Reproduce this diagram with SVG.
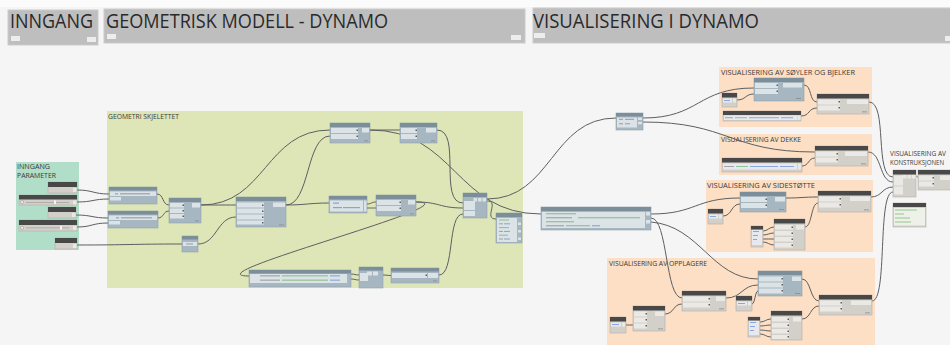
<svg xmlns="http://www.w3.org/2000/svg" width="950" height="345" viewBox="0 0 950 345">
<style>
.hdr{fill:#bebebe;stroke:#cbcbcb;stroke-width:1}
.hb{fill:#ededed}
.ht{font-family:"Open Sans","Noto Sans",sans-serif;font-size:20px;fill:#2a2a2a}
.gt{font-family:"Open Sans","Noto Sans",sans-serif;font-size:7.5px;fill:#3a3a3a}
.w{fill:none;stroke:#5c5f61;stroke-width:1}
.bb{fill:#a6b7c1;stroke:#8fa1ab;stroke-width:.6}
.bh{fill:#7b8e99}
.bi{fill:#dce3e7}
.gb{fill:#d3d0ca;stroke:#b3b0aa;stroke-width:.6}
.gh{fill:#484848}
.gi{fill:#ebe9e5}
.fi{fill:#e7e9ee}
.pm{fill:#5a5e62}
.cb{fill:#3f70cf;opacity:.55}
.cg{fill:#3e9b3e;opacity:.5}
.ck{fill:#6a6a6a;opacity:.55}
.ft{fill:#8a8a8a}
</style>

<!-- canvas -->
<rect x="0" y="0" width="950" height="345" fill="#f5f5f5"/>
<rect x="0" y="0" width="950" height="7" fill="#fbfbfb"/>

<!-- section headers -->
<g id="hdr-inngang">
  <rect class="hdr" x="8" y="10" width="90" height="35"/>
  <rect class="hb" x="11" y="36" width="9" height="5"/>
  <rect class="hb" x="87" y="37" width="9" height="5"/>
  <text class="ht" x="10" y="28" textLength="83" lengthAdjust="spacingAndGlyphs">INNGANG</text>
</g>
<g id="hdr-geometri">
  <rect class="hdr" x="104" y="9" width="421" height="34"/>
  <rect class="hb" x="107" y="34" width="9" height="5"/>
  <rect class="hb" x="511" y="35" width="10" height="5"/>
  <text class="ht" x="106" y="28" textLength="282" lengthAdjust="spacingAndGlyphs">GEOMETRISK MODELL - DYNAMO</text>
</g>
<g id="hdr-visualisering">
  <rect class="hdr" x="533" y="8" width="420" height="35"/>
  <rect class="hb" x="534" y="33" width="11" height="5"/>
  <rect class="hb" x="945" y="36" width="8" height="5"/>
  <text class="ht" x="533" y="28" textLength="226" lengthAdjust="spacingAndGlyphs">VISUALISERING I DYNAMO</text>
</g>

<!-- groups -->
<g id="grp-inngang-parameter">
  <rect x="16" y="162" width="63" height="88" fill="#b0dec8"/>
  <text class="gt" x="17" y="168.5" style="font-size:6.8px" textLength="33" lengthAdjust="spacingAndGlyphs">INNGANG</text>
  <text class="gt" x="17" y="178" style="font-size:6.8px" textLength="39" lengthAdjust="spacingAndGlyphs">PARAMETER</text>
</g>
<g id="grp-geometri-skjelettet">
  <rect x="107" y="111" width="416" height="177" fill="#dee6b8"/>
  <text class="gt" x="108" y="118.5" textLength="71" lengthAdjust="spacingAndGlyphs">GEOMETRI SKJELETTET</text>
</g>
<g id="grp-soyler-bjelker">
  <rect x="719" y="67" width="153" height="60" fill="#fcdfc4"/>
  <text class="gt" x="721" y="74.5" textLength="134" lengthAdjust="spacingAndGlyphs">VISUALISERING AV SØYLER OG BJELKER</text>
</g>
<g id="grp-dekke">
  <rect x="719" y="134" width="153" height="41" fill="#fcdfc4"/>
  <text class="gt" x="721" y="141.5" textLength="80" lengthAdjust="spacingAndGlyphs">VISUALISERING AV DEKKE</text>
</g>
<g id="grp-sidestotte">
  <rect x="706" y="180" width="167" height="72" fill="#fcdfc4"/>
  <text class="gt" x="707" y="187.5" textLength="108" lengthAdjust="spacingAndGlyphs">VISUALISERING AV SIDESTØTTE</text>
</g>
<g id="grp-opplagere">
  <rect x="607" y="258" width="268" height="87" fill="#fcdfc4"/>
  <text class="gt" x="609" y="266" textLength="98" lengthAdjust="spacingAndGlyphs">VISUALISERING AV OPPLAGERE</text>
</g>
<g id="grp-konstruksjonen">
  <text class="gt" x="890" y="156" style="font-size:6.2px" textLength="56" lengthAdjust="spacingAndGlyphs">VISUALISERING AV</text>
  <text class="gt" x="890" y="164.5" style="font-size:6.2px" textLength="54" lengthAdjust="spacingAndGlyphs">KONSTRUKSJONEN</text>
</g>

<!-- connectors -->
<g id="connectors" class="w">
  <path d="M77 190 C93 190 93 194 109 194"/>
  <path d="M77 202 C93 202 93 199 109 199"/>
  <path d="M76 215 C92 215 92 218 108 218"/>
  <path d="M77 227 C92 227 92 223 108 223"/>
  <path d="M77 245 C130 245 130 244 182 244"/>
  <path d="M157 194 C164 194 162 205 169 205"/>
  <path d="M158 218 C164 218 163 211 169 211"/>
  <path d="M201 205 C218 205 219 205 236 205"/>
  <path d="M201 205 C266 205 265 130 330 130"/>
  <path d="M286 205 C310 205 306 136 330 136"/>
  <path d="M286 205 C305 205 310 203 329 203"/>
  <path d="M198 244 C217 244 217 217 236 217"/>
  <path d="M370 130 C385 130 385 130 400 130"/>
  <path d="M370 130 C455 130 456 214 541 214"/>
  <path d="M367 204 C372 204 371 202 376 202"/>
  <path d="M367 208 C372 208 371 208 376 208"/>
  <path d="M437 130 C462 130 438 203 463 203"/>
  <path d="M416 202 C440 202 439 208 463 208"/>
  <path d="M416 202 C478 202 187 276 249 276"/>
  <path d="M439 275 C455 275 447 214 463 214"/>
  <path d="M351 274 C355 274 355 275 359 275"/>
  <path d="M351 279 C355 279 355 280 359 280"/>
  <path d="M383 275 C387 275 387 275.5 391 275.5"/>
  <path d="M487 199 C552 199 551 118 616 118"/>
  <path d="M487 201 C500 201 483 219 496 219"/>
  <path d="M643 118 C700 118 697 88 754 88"/>
  <path d="M643 122 C729 122 729 152 815 152"/>
  <path d="M737 100 C746 100 745 94 754 94"/>
  <path d="M804 85 C812 85 809 102 817 102"/>
  <path d="M801 116 C810 116 808 108 817 108"/>
  <path d="M869 102 C888 102 874 177 893 177"/>
  <path d="M802 166 C809 166 808 158 815 158"/>
  <path d="M868 152 C882 152 879 182 893 182"/>
  <path d="M651 214 C696 214 695 198 740 198"/>
  <path d="M651 218 C668 218 665 298 682 298"/>
  <path d="M651 222 C700 226 712 279 758 279"/>
  <path d="M723 216 C732 216 731 204 740 204"/>
  <path d="M786 198 C802 198 802 197 818 197"/>
  <path d="M805 227 C812 227 811 203 818 203"/>
  <path d="M763 231 C768 231 769 227 774 227"/>
  <path d="M763 235 C768 235 769 233 774 233"/>
  <path d="M763 239 C768 239 769 239 774 239"/>
  <path d="M763 242 C768 242 769 245 774 245"/>
  <path d="M871 197 C882 197 882 187 893 187"/>
  <path d="M872 301 C888 301 877 192 893 192"/>
  <path d="M626 325 C629 325 630 325 633 325"/>
  <path d="M665 314 C674 314 673 304 682 304"/>
  <path d="M726 298 C742 298 742 285 758 285"/>
  <path d="M752 304 C755 304 755 291 758 291"/>
  <path d="M802 279 C811 279 810 301 819 301"/>
  <path d="M802 319 C811 319 810 306 819 306"/>
  <path d="M760 322 C765 322 766 319 771 319"/>
  <path d="M760 326 C765 326 766 325 771 325"/>
  <path d="M760 330 C765 330 766 331 771 331"/>
  <path d="M760 334 C765 334 766 337 771 337"/>
  <path d="M916 176 C917 176 918 178 919 178"/>
</g>

<!-- input parameters -->
<g id="node-tall-1">
  <rect class="gb" x="48" y="182" width="29" height="11"/>
  <rect class="gh" x="48" y="182" width="29" height="5"/>
  <rect class="gi" x="73" y="188" width="3.5" height="4"/>
</g>
<g id="node-slider-1">
  <rect class="gb" x="19" y="195" width="58" height="10"/>
  <rect class="gh" x="19" y="195" width="58" height="4.5"/>
  <circle cx="22" cy="202.2" r="1.6" fill="#f2f0ec" stroke="#8a8782" stroke-width=".5"/>
  <rect x="26" y="202" width="43" height=".8" fill="#a8a49e"/>
  <rect x="54" y="200.5" width="2" height="3.5" fill="#f6f5f2"/>
  <rect class="gi" x="73" y="200.5" width="3.5" height="4"/>
</g>
<g id="node-tall-2">
  <rect class="gb" x="48" y="207" width="28" height="11"/>
  <rect class="gh" x="48" y="207" width="28" height="5"/>
  <rect class="gi" x="72" y="213" width="3.5" height="4"/>
</g>
<g id="node-slider-2">
  <rect class="gb" x="19" y="220" width="58" height="11"/>
  <rect class="gh" x="19" y="220" width="58" height="5"/>
  <circle cx="22" cy="227.8" r="1.6" fill="#f2f0ec" stroke="#8a8782" stroke-width=".5"/>
  <rect x="26" y="227.5" width="43" height=".8" fill="#a8a49e"/>
  <rect x="60" y="226" width="2" height="3.5" fill="#f6f5f2"/>
  <rect class="gi" x="73" y="226" width="3.5" height="4"/>
</g>
<g id="node-tall-3">
  <rect class="gb" x="55" y="238" width="22" height="11"/>
  <rect class="gh" x="55" y="238" width="22" height="5"/>
  <rect class="gi" x="73" y="244" width="3.5" height="4"/>
</g>

<!-- geometry skeleton -->
<g id="node-bredde">
  <rect class="bb" x="109" y="187" width="48" height="17"/>
  <rect class="bh" x="109" y="187" width="48" height="3.5"/>
  <rect class="bi" x="110" y="191.5" width="46" height="4.5"/>
  <rect class="cb" x="115" y="193.2" width="3" height="1.2"/>
  <rect class="ck" x="120" y="193.2" width="30" height="1.2"/>
  <rect class="bi" x="110" y="197" width="11" height="3.5"/>
</g>
<g id="node-lengde">
  <rect class="bb" x="108" y="211" width="50" height="17"/>
  <rect class="bh" x="108" y="211" width="50" height="3.5"/>
  <rect class="bi" x="109" y="215.5" width="48" height="4.5"/>
  <rect class="cb" x="116" y="217.2" width="3" height="1.2"/>
  <rect class="ck" x="121" y="217.2" width="31" height="1.2"/>
  <rect class="bi" x="109" y="221" width="11" height="3.5"/>
</g>
<g id="node-c">
  <rect class="bb" x="169" y="198" width="32" height="25"/>
  <rect class="bh" x="169" y="198" width="32" height="4"/>
  <rect class="bi" x="170" y="203" width="14" height="4.5"/>
  <rect class="bi" x="170" y="208.5" width="14" height="4.5"/>
  <rect class="bi" x="170" y="214" width="14" height="4.5"/>
  <rect class="pm" x="182.5" y="204.5" width="1.5" height="1.5"/>
  <rect class="pm" x="182.5" y="210" width="1.5" height="1.5"/>
  <rect class="pm" x="182.5" y="215.5" width="1.5" height="1.5"/>
  <rect class="bi" x="192" y="203" width="8" height="4.5"/>
  <rect class="ft" x="195" y="220.5" width="4" height=".8"/>
</g>
<g id="node-d">
  <rect class="bb" x="236" y="197" width="50" height="30"/>
  <rect class="bh" x="236" y="197" width="50" height="4"/>
  <rect class="bi" x="237" y="202.5" width="27" height="5"/>
  <rect class="bi" x="237" y="208.5" width="27" height="5"/>
  <rect class="bi" x="237" y="214.5" width="27" height="5"/>
  <rect class="bi" x="237" y="220.5" width="27" height="4"/>
  <rect class="pm" x="262" y="204.5" width="1.5" height="1.5"/>
  <rect class="pm" x="262" y="210.5" width="1.5" height="1.5"/>
  <rect class="pm" x="262" y="216.5" width="1.5" height="1.5"/>
  <rect class="pm" x="262" y="222" width="1.5" height="1.5"/>
  <rect class="bi" x="273" y="202.5" width="12" height="4.5"/>
  <rect class="ft" x="279" y="224.5" width="5" height=".8"/>
</g>
<g id="node-e">
  <rect class="bb" x="182" y="236" width="16" height="16"/>
  <rect class="bh" x="182" y="236" width="16" height="3.5"/>
  <rect class="bi" x="183" y="242" width="14" height="4"/>
  <rect class="ck" x="186" y="243.4" width="7" height="1.1"/>
</g>
<g id="node-f">
  <rect class="bb" x="330" y="123" width="40" height="20"/>
  <rect class="bh" x="330" y="123" width="40" height="4"/>
  <rect class="bi" x="331" y="128" width="27" height="5"/>
  <rect class="bi" x="331" y="134" width="27" height="5"/>
  <rect class="pm" x="356.5" y="129.5" width="1.5" height="1.5"/>
  <rect class="pm" x="356.5" y="135.5" width="1.5" height="1.5"/>
  <rect class="bi" x="362" y="128" width="7" height="4.5"/>
  <rect class="ft" x="364" y="140.5" width="4" height=".8"/>
</g>
<g id="node-g">
  <rect class="bb" x="400" y="123" width="37" height="20"/>
  <rect class="bh" x="400" y="123" width="37" height="4"/>
  <rect class="bi" x="401" y="128" width="16" height="5"/>
  <rect class="bi" x="401" y="134" width="16" height="5"/>
  <rect class="pm" x="415.5" y="129.5" width="1.5" height="1.5"/>
  <rect class="pm" x="415.5" y="135.5" width="1.5" height="1.5"/>
  <rect class="bi" x="426" y="128" width="10" height="4.5"/>
  <rect class="ft" x="431" y="140.5" width="4" height=".8"/>
</g>
<g id="node-h">
  <rect class="bb" x="329" y="196" width="38" height="17"/>
  <rect class="bh" x="329" y="196" width="38" height="3.5"/>
  <rect class="bi" x="330" y="200.5" width="33" height="11"/>
  <rect class="cb" x="333" y="202.5" width="6" height="1.2"/>
  <rect class="ck" x="333" y="207" width="9" height="1.2"/>
  <rect class="cb" x="343" y="207" width="17" height="1.2"/>
  <rect class="bi" x="364" y="200.5" width="2.5" height="11"/>
</g>
<g id="node-i">
  <rect class="bb" x="376" y="195" width="40" height="21"/>
  <rect class="bh" x="376" y="195" width="40" height="4"/>
  <rect class="bi" x="377" y="200" width="24" height="5"/>
  <rect class="bi" x="377" y="206" width="24" height="5"/>
  <rect class="pm" x="399.5" y="201.5" width="1.5" height="1.5"/>
  <rect class="pm" x="399.5" y="207.5" width="1.5" height="1.5"/>
  <rect class="bi" x="408" y="200" width="7" height="4.5"/>
  <rect class="ft" x="410" y="213.5" width="4" height=".8"/>
</g>
<g id="node-j">
  <rect class="bb" x="463" y="193" width="24" height="25"/>
  <rect class="bh" x="463" y="193" width="24" height="4"/>
  <rect class="bi" x="473.5" y="198" width="3.5" height="3.5"/>
  <rect class="bi" x="478" y="198" width="3.5" height="3.5"/>
  <rect class="bi" x="482.5" y="198" width="3.5" height="3.5"/>
  <rect class="bi" x="464" y="201" width="11" height="9"/>
  <rect class="bi" x="464" y="211" width="11" height="5"/>
</g>
<g id="node-k">
  <rect class="bb" x="496" y="213" width="26" height="30"/>
  <rect class="bh" x="496" y="213" width="26" height="4"/>
  <rect class="bi" x="497" y="218" width="20" height="24"/>
  <rect class="cg" x="499" y="219.5" width="10" height="1"/>
  <rect class="ck" x="499" y="223.3" width="4" height="1"/><rect class="cb" x="504" y="223.3" width="6" height="1"/>
  <rect class="cg" x="499" y="227.1" width="10" height="1"/>
  <rect class="ck" x="499" y="230.9" width="4" height="1"/><rect class="cb" x="504" y="230.9" width="6" height="1"/>
  <rect class="cg" x="499" y="234.7" width="9" height="1"/>
  <rect class="ck" x="499" y="238.5" width="4" height="1"/><rect class="cb" x="504" y="238.5" width="6" height="1"/>
  <rect class="bi" x="518" y="222.5" width="3" height="2.5"/>
  <rect class="bi" x="518" y="230" width="3" height="2.5"/>
  <rect class="bi" x="518" y="237.5" width="3" height="2.5"/>
</g>
<g id="node-l">
  <rect class="bb" x="249" y="270" width="102" height="17"/>
  <rect class="bh" x="249" y="270" width="102" height="3.5"/>
  <rect class="bi" x="250" y="274" width="97" height="9"/>
  <rect class="ck" x="260" y="275.3" width="20" height="1.1"/><rect class="cg" x="282" y="275.3" width="46" height="1.1"/><rect class="cb" x="330" y="275.3" width="10" height="1.1"/>
  <rect class="ck" x="260" y="279.6" width="20" height="1.1"/><rect class="cg" x="282" y="279.6" width="46" height="1.1"/><rect class="cb" x="330" y="279.6" width="10" height="1.1"/>
</g>
<g id="node-m">
  <rect class="bb" x="359" y="267" width="24" height="21"/>
  <rect class="bh" x="359" y="267" width="24" height="3.5"/>
  <rect class="bi" x="367" y="271.5" width="5" height="4"/>
  <rect class="bi" x="373" y="271.5" width="5" height="4"/>
  <rect class="bi" x="360" y="273" width="8" height="8"/>
</g>
<g id="node-n">
  <rect class="bb" x="391" y="268" width="48" height="15"/>
  <rect class="bh" x="391" y="268" width="48" height="3.5"/>
  <rect class="bi" x="392" y="273" width="35" height="5"/>
  <rect class="pm" x="425.5" y="274.5" width="1.5" height="1.5"/>
  <rect class="bi" x="428" y="273" width="10" height="5"/>
  <rect class="ft" x="433" y="280.5" width="4" height=".8"/>
</g>

<!-- visualisation: code blocks -->
<g id="node-p">
  <rect class="bb" x="616" y="113" width="27" height="17"/>
  <rect class="bh" x="616" y="113" width="27" height="3.5"/>
  <rect class="bi" x="617" y="117.5" width="20" height="10"/>
  <rect class="ck" x="619" y="118.8" width="4" height="1.1"/><rect class="cb" x="625" y="118.8" width="9" height="1.1"/>
  <rect class="ck" x="619" y="123.2" width="4" height="1.1"/><rect class="cb" x="625" y="123.2" width="5" height="1.1"/>
  <rect class="bi" x="638" y="117.5" width="4" height="2.5"/>
  <rect class="bi" x="638" y="121.8" width="4" height="2.5"/>
</g>
<g id="node-q">
  <rect class="bb" x="541" y="207" width="110" height="23"/>
  <rect class="bh" x="541" y="207" width="110" height="4"/>
  <rect class="bi" x="542" y="212" width="103" height="16"/>
  <rect class="cg" x="546" y="213.2" width="30" height="1.1"/>
  <rect class="ck" x="546" y="217.2" width="26" height="1.1"/><rect class="cg" x="578" y="217.2" width="62" height="1.1"/>
  <rect class="cg" x="546" y="221.2" width="28" height="1.1"/>
  <rect class="ck" x="546" y="225.2" width="18" height="1.1"/><rect class="cg" x="566" y="225.2" width="24" height="1.1"/><rect class="cb" x="592" y="225.2" width="8" height="1.1"/>
  <rect class="bi" x="646" y="212" width="4" height="3.5"/>
  <rect class="bi" x="646" y="220" width="4" height="3.5"/>
</g>

<!-- columns and beams -->
<g id="node-s1">
  <rect class="bb" x="754" y="78" width="50" height="23"/>
  <rect class="bh" x="754" y="78" width="50" height="4"/>
  <rect class="bi" x="755" y="83" width="23" height="5"/>
  <rect class="bi" x="755" y="89" width="23" height="5"/>
  <rect class="pm" x="776.5" y="84.5" width="1.5" height="1.5"/>
  <rect class="pm" x="776.5" y="90.5" width="1.5" height="1.5"/>
  <rect class="bi" x="783" y="83" width="19" height="4.5"/>
  <rect class="ft" x="796" y="98" width="5" height=".8"/>
</g>
<g id="node-s2">
  <rect class="gb" x="722" y="93" width="15" height="14"/>
  <rect class="gh" x="722" y="93" width="15" height="4.5"/>
  <rect class="fi" x="723" y="98.5" width="9" height="4"/>
  <rect class="cb" x="724" y="100" width="6" height="1"/>
  <rect class="gi" x="733" y="98.5" width="3" height="4"/>
</g>
<g id="node-s3">
  <rect class="gb" x="817" y="94" width="52" height="20"/>
  <rect class="gh" x="817" y="94" width="52" height="4.5"/>
  <rect class="gi" x="818" y="99.5" width="22" height="5"/>
  <rect class="gi" x="818" y="105.5" width="22" height="5"/>
  <rect class="pm" x="838.5" y="101" width="1.5" height="1.5"/>
  <rect class="pm" x="838.5" y="107" width="1.5" height="1.5"/>
  <rect class="gi" x="847" y="99.5" width="21" height="4.5"/>
  <rect class="ft" x="862" y="111.5" width="5" height=".8"/>
</g>
<g id="node-s4">
  <rect class="gb" x="723" y="111" width="78" height="10"/>
  <rect class="gh" x="723" y="111" width="78" height="4"/>
  <rect class="fi" x="724" y="115.5" width="73" height="4.5"/>
  <rect class="ck" x="725" y="117.2" width="8" height="1"/><rect class="cg" x="735" y="117.2" width="12" height="1"/><rect class="cb" x="749" y="117.2" width="30" height="1"/><rect class="cb" x="781" y="117.2" width="12" height="1"/>
  <rect class="gi" x="797.5" y="115.5" width="3" height="4.5"/>
</g>

<!-- slab -->
<g id="node-d1">
  <rect class="gb" x="815" y="146" width="53" height="20"/>
  <rect class="gh" x="815" y="146" width="53" height="4.5"/>
  <rect class="gi" x="816" y="151.5" width="22" height="5"/>
  <rect class="gi" x="816" y="157.5" width="22" height="5"/>
  <rect class="pm" x="836.5" y="153" width="1.5" height="1.5"/>
  <rect class="pm" x="836.5" y="159" width="1.5" height="1.5"/>
  <rect class="gi" x="845" y="151.5" width="22" height="4.5"/>
  <rect class="ft" x="861" y="163.5" width="5" height=".8"/>
</g>
<g id="node-d2">
  <rect class="gb" x="722" y="158" width="80" height="14"/>
  <rect class="gh" x="722" y="158" width="80" height="4.5"/>
  <rect class="fi" x="723" y="163.5" width="74" height="6"/>
  <rect class="ck" x="724" y="166" width="10" height="1"/><rect class="cg" x="736" y="166" width="12" height="1"/><rect class="cb" x="750" y="166" width="28" height="1"/><rect class="cb" x="780" y="166" width="14" height="1"/>
  <rect class="gi" x="798" y="163.5" width="3" height="6"/>
</g>

<!-- side supports -->
<g id="node-ss1">
  <rect class="bb" x="740" y="192" width="46" height="20"/>
  <rect class="bh" x="740" y="192" width="46" height="4"/>
  <rect class="bi" x="741" y="197" width="26" height="5"/>
  <rect class="bi" x="741" y="203" width="26" height="5"/>
  <rect class="pm" x="765.5" y="198.5" width="1.5" height="1.5"/>
  <rect class="pm" x="765.5" y="204.5" width="1.5" height="1.5"/>
  <rect class="bi" x="775" y="197" width="10" height="4.5"/>
  <rect class="ft" x="779" y="209" width="5" height=".8"/>
</g>
<g id="node-ss2">
  <rect class="gb" x="708" y="209" width="15" height="15"/>
  <rect class="gh" x="708" y="209" width="15" height="4.5"/>
  <rect class="fi" x="709" y="214.5" width="9" height="4"/>
  <rect class="cb" x="710" y="216" width="6" height="1"/>
  <rect class="gi" x="719" y="214.5" width="3" height="4"/>
</g>
<g id="node-ss3">
  <rect class="gb" x="818" y="191" width="53" height="21"/>
  <rect class="gh" x="818" y="191" width="53" height="4.5"/>
  <rect class="gi" x="819" y="196.5" width="22" height="5"/>
  <rect class="gi" x="819" y="202.5" width="22" height="5"/>
  <rect class="pm" x="839.5" y="198" width="1.5" height="1.5"/>
  <rect class="pm" x="839.5" y="204" width="1.5" height="1.5"/>
  <rect class="gi" x="850" y="196.5" width="20" height="4.5"/>
  <rect class="ft" x="864" y="209.5" width="5" height=".8"/>
</g>
<g id="node-ss4">
  <rect class="gb" x="774" y="219" width="31" height="31"/>
  <rect class="gh" x="774" y="219" width="31" height="4.5"/>
  <rect class="gi" x="775" y="225" width="18" height="4.5"/>
  <rect class="gi" x="775" y="231" width="18" height="4.5"/>
  <rect class="gi" x="775" y="237" width="18" height="4.5"/>
  <rect class="gi" x="775" y="243" width="18" height="4.5"/>
  <rect class="pm" x="791.5" y="226.5" width="1.5" height="1.5"/>
  <rect class="pm" x="791.5" y="232.5" width="1.5" height="1.5"/>
  <rect class="pm" x="791.5" y="238.5" width="1.5" height="1.5"/>
  <rect class="pm" x="791.5" y="244.5" width="1.5" height="1.5"/>
  <rect class="gi" x="796" y="225" width="8" height="4.5"/>
</g>
<g id="node-ss5">
  <rect class="gb" x="751" y="226" width="12" height="21"/>
  <rect class="gh" x="751" y="226" width="12" height="3.5"/>
  <rect class="fi" x="752" y="230" width="10" height="15"/>
  <rect class="cb" x="753" y="231" width="6" height="1"/>
  <rect class="cb" x="753" y="235" width="5" height="1"/>
  <rect class="cb" x="753" y="239" width="4" height="1"/>
</g>

<!-- combined view -->
<g id="node-r1">
  <rect class="gb" x="893" y="170" width="23" height="27"/>
  <rect class="gh" x="893" y="170" width="23" height="4.5"/>
  <rect class="gi" x="903" y="175" width="3.5" height="3.5"/>
  <rect class="gi" x="907.5" y="175" width="3.5" height="3.5"/>
  <rect class="gi" x="912" y="175" width="3.5" height="3.5"/>
  <rect class="gi" x="894" y="175.5" width="9" height="10"/>
  <rect class="gi" x="894" y="186.5" width="9" height="8"/>
</g>
<g id="node-r2">
  <rect class="gb" x="918" y="170" width="34" height="20"/>
  <rect class="gh" x="918" y="170" width="34" height="4.5"/>
  <rect class="gi" x="919" y="175.5" width="15" height="5"/>
  <rect class="gi" x="919" y="181.5" width="15" height="5"/>
  <rect class="pm" x="932.5" y="177" width="1.5" height="1.5"/>
  <rect class="pm" x="932.5" y="183" width="1.5" height="1.5"/>
  <rect class="gi" x="940" y="175.5" width="10" height="4.5"/>
</g>
<g id="node-r3">
  <rect class="gb" x="893" y="203" width="33" height="24"/>
  <rect class="gh" x="893" y="203" width="33" height="4"/>
  <rect x="894" y="208" width="31" height="17.5" fill="#eef1e8"/>
  <rect class="cg" x="895" y="209.5" width="22" height="1"/>
  <rect class="cg" x="895" y="213.5" width="9" height="1"/>
  <rect class="cg" x="895" y="217.5" width="15" height="1"/>
  <rect class="cg" x="895" y="221.5" width="16" height="1"/>
</g>

<!-- bearings -->
<g id="node-o1">
  <rect class="bb" x="758" y="271" width="44" height="25"/>
  <rect class="bh" x="758" y="271" width="44" height="4"/>
  <rect class="bi" x="759" y="276.5" width="24" height="5"/>
  <rect class="bi" x="759" y="282.5" width="24" height="5"/>
  <rect class="bi" x="759" y="288.5" width="24" height="5"/>
  <rect class="pm" x="781.5" y="278" width="1.5" height="1.5"/>
  <rect class="pm" x="781.5" y="284" width="1.5" height="1.5"/>
  <rect class="pm" x="781.5" y="290" width="1.5" height="1.5"/>
  <rect class="bi" x="792" y="276.5" width="9" height="4.5"/>
  <rect class="ft" x="795" y="293" width="5" height=".8"/>
</g>
<g id="node-o2">
  <rect class="gb" x="682" y="291" width="44" height="20"/>
  <rect class="gh" x="682" y="291" width="44" height="4.5"/>
  <rect class="gi" x="683" y="296.5" width="27" height="5"/>
  <rect class="gi" x="683" y="302.5" width="27" height="5"/>
  <rect class="pm" x="708.5" y="298" width="1.5" height="1.5"/>
  <rect class="pm" x="708.5" y="304" width="1.5" height="1.5"/>
  <rect class="gi" x="716" y="296.5" width="9" height="4.5"/>
  <rect class="ft" x="719" y="308.5" width="5" height=".8"/>
</g>
<g id="node-o3">
  <rect class="gb" x="633" y="306" width="32" height="25"/>
  <rect class="gh" x="633" y="306" width="32" height="4.5"/>
  <rect class="gi" x="634" y="311.5" width="13" height="5"/>
  <rect class="gi" x="634" y="317.5" width="13" height="5"/>
  <rect class="gi" x="634" y="323.5" width="13" height="5"/>
  <rect class="pm" x="645.5" y="313" width="1.5" height="1.5"/>
  <rect class="pm" x="645.5" y="319" width="1.5" height="1.5"/>
  <rect class="pm" x="645.5" y="325" width="1.5" height="1.5"/>
  <rect class="gi" x="655" y="311.5" width="9" height="4.5"/>
  <rect class="ft" x="658" y="328.5" width="5" height=".8"/>
</g>
<g id="node-o4">
  <rect class="gb" x="610" y="317" width="16" height="16"/>
  <rect class="gh" x="610" y="317" width="16" height="4.5"/>
  <rect class="fi" x="611" y="322.5" width="10" height="4"/>
  <rect class="cb" x="612" y="324" width="7" height="1"/>
  <rect class="gi" x="622" y="322.5" width="3" height="4"/>
</g>
<g id="node-o5">
  <rect class="gb" x="736" y="296" width="16" height="15"/>
  <rect class="gh" x="736" y="296" width="16" height="4.5"/>
  <rect class="fi" x="737" y="301.5" width="10" height="4"/>
  <rect class="cb" x="738" y="303" width="7" height="1"/>
  <rect class="gi" x="748" y="301.5" width="3" height="4"/>
</g>
<g id="node-o6">
  <rect class="gb" x="819" y="295" width="53" height="20"/>
  <rect class="gh" x="819" y="295" width="53" height="4.5"/>
  <rect class="gi" x="820" y="300.5" width="22" height="5"/>
  <rect class="gi" x="820" y="306.5" width="22" height="5"/>
  <rect class="pm" x="840.5" y="302" width="1.5" height="1.5"/>
  <rect class="pm" x="840.5" y="308" width="1.5" height="1.5"/>
  <rect class="gi" x="851" y="300.5" width="20" height="4.5"/>
  <rect class="ft" x="865" y="312.5" width="5" height=".8"/>
</g>
<g id="node-o7">
  <rect class="gb" x="771" y="311" width="31" height="29"/>
  <rect class="gh" x="771" y="311" width="31" height="4.5"/>
  <rect class="gi" x="772" y="317" width="17" height="4.5"/>
  <rect class="gi" x="772" y="323" width="17" height="4.5"/>
  <rect class="gi" x="772" y="329" width="17" height="4.5"/>
  <rect class="gi" x="772" y="335" width="17" height="4"/>
  <rect class="pm" x="787.5" y="318.5" width="1.5" height="1.5"/>
  <rect class="pm" x="787.5" y="324.5" width="1.5" height="1.5"/>
  <rect class="pm" x="787.5" y="330.5" width="1.5" height="1.5"/>
  <rect class="pm" x="787.5" y="336" width="1.5" height="1.5"/>
  <rect class="gi" x="793" y="317" width="8" height="4.5"/>
</g>
<g id="node-o8">
  <rect class="gb" x="748" y="317" width="12" height="20"/>
  <rect class="gh" x="748" y="317" width="12" height="3.5"/>
  <rect class="fi" x="749" y="321" width="10" height="14"/>
  <rect class="cb" x="750" y="322" width="6" height="1"/>
  <rect class="cb" x="750" y="326" width="5" height="1"/>
  <rect class="cb" x="750" y="330" width="4" height="1"/>
</g>
</svg>
